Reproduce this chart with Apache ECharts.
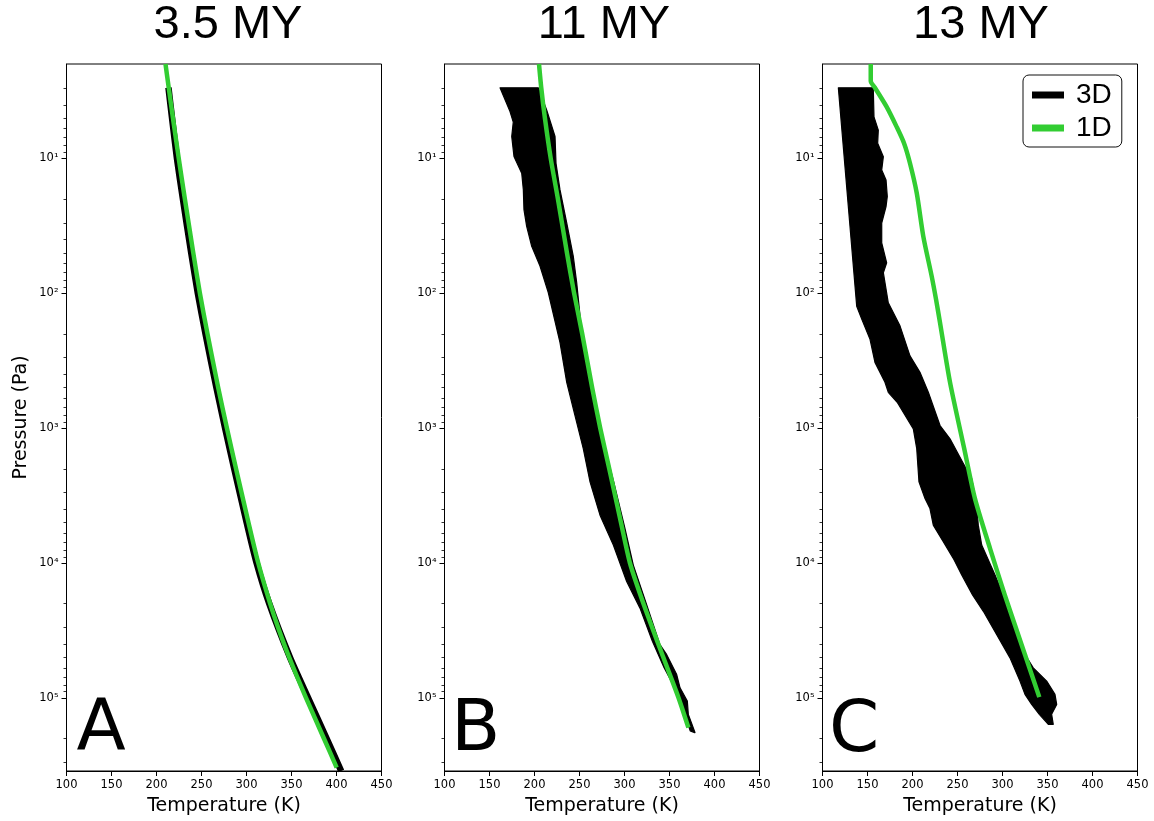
<!DOCTYPE html>
<html>
<head>
<meta charset="utf-8">
<script src="https://cdn.jsdelivr.net/npm/echarts@6/dist/echarts.min.js"></script>
<style>
html,body{margin:0;padding:0;background:#fff;}
#chart{width:1154px;height:821px;}
</style>
</head>
<body>
<div id="chart"></div>
<script>
// ---------- labels ----------
const panelTitles = ['3.5 MY', '11 MY', '13 MY'];
const panelLetters = ['A', 'B', 'C'];
const xAxisTitle = 'Temperature (K)';
const yAxisTitle = 'Pressure (Pa)';
const legendNames = ['3D', '1D'];
const xMin = 100, xMax = 450, xStep = 50;
const yMin = 2, yMax = 350000;
const yTickValues = [10, 100, 1000, 10000, 100000];
const yTickLabels = ['10¹', '10²', '10³', '10⁴', '10⁵'];
const yMinorTickValues = [3, 4, 5, 6, 7, 8, 9,
  20, 30, 40, 50, 60, 70, 80, 90,
  200, 300, 400, 500, 600, 700, 800, 900,
  2000, 3000, 4000, 5000, 6000, 7000, 8000, 9000,
  20000, 30000, 40000, 50000, 60000, 70000, 80000, 90000,
  200000, 300000];

// ---------- Panel A (3.5 MY) ----------
const a1dPressure = [2, 3, 5, 10, 20, 50, 100, 200, 500, 1000, 2000, 5000, 10000, 20000, 30000, 50000, 100000, 200000, 330000];
const a1dTemperature = [210, 213.6, 218.2, 224.7, 231.5, 240.8, 248.2, 256.6, 268.5, 278.2, 288.3, 302.1, 313, 326.2, 335, 347.3, 366, 385.9, 400.2];
// 3D envelope in panel A is a narrow trace: its centre line
const a3dPressure = [3, 5, 10, 20, 50, 100, 200, 500, 1000, 2000, 5000, 10000, 20000, 50000, 100000, 200000, 350000];
const a3dTemperature = [213.3, 217.2, 222.7, 229.3, 238.5, 245.9, 254.4, 266.5, 276.2, 286.3, 300.1, 311.2, 325.2, 348.1, 368.3, 388.9, 405.2];

// ---------- Panel B (11 MY) ----------
const b1dPressure = [2, 3, 5, 10, 20, 50, 100, 200, 500, 1000, 2000, 5000, 10000, 20000, 50000, 100000, 167000];
const b1dTemperature = [205, 207.5, 211.5, 218, 226, 236, 244, 253, 264, 273, 283, 296, 306, 321, 343, 360, 371];
const b3dLeftPressure = [3, 4.5, 5.4, 6.9, 9.7, 12.9, 17.1, 24.1, 32, 45, 63, 99, 232, 459, 809, 1426, 2512, 4434, 7390, 13770, 21700, 38200, 60100, 75400, 105900, 133000, 176400, 181600];
const b3dLeftTemperature = [161.7, 172.8, 176.4, 174.7, 177.2, 185.8, 187.6, 188.3, 191.3, 196.9, 206.1, 215.3, 228.3, 235.8, 245, 254.2, 261.7, 272.8, 287.6, 302.4, 317.2, 331, 344, 352, 361, 367, 373, 378];
const b3dRightPressure = [3, 4.4, 6.9, 10.9, 17.1, 30.2, 53.3, 83.8, 148, 232, 459, 1016, 2512, 5560, 10400, 20500, 40500, 48000, 67400, 84500, 105900, 133000, 181600];
const b3dRightTemperature = [204.2, 213.6, 222.8, 223.9, 228.3, 235.8, 243.1, 246.9, 250.6, 253.6, 261.7, 272.8, 288, 300.5, 309.8, 324.7, 339.4, 346.9, 358, 361.7, 369.8, 370.9, 378.3];

// ---------- Panel C (13 MY) ----------
const c1dPressure = [2, 2.67, 3.0, 4.16, 5.85, 7.74, 10.9, 18.1, 37.9, 74.9, 111, 166, 459, 1426, 3340, 7810, 17300, 48000, 99100];
const c1dTemperature = [153.6, 153.6, 158.3, 171.3, 182.4, 190.6, 197.2, 204.7, 212, 221.3, 226.1, 230.6, 241.7, 257.5, 269.4, 286.1, 302.5, 325, 340.9];
const c3dLeftPressure = [3.0, 125, 156, 220, 327, 459, 544, 645, 1016, 1426, 2512, 3340, 3960, 5260, 6970, 9270, 12300, 17300, 22900, 34100, 50700, 75400, 94600, 112200, 133000, 157700];
const c3dLeftTemperature = [117.6, 138, 143.6, 152.8, 158.3, 169.4, 173.1, 183, 200.9, 204.7, 207.2, 213.9, 219.4, 223.1, 234.2, 245.3, 254.7, 266.7, 278.7, 293.6, 308.3, 319.4, 325, 332.4, 340.9, 350.9];
const c3dRightPressure = [3.0, 4.93, 6.18, 7.74, 9.73, 12.2, 14.5, 19.2, 22.8, 30.2, 42.5, 59.6, 70.6, 118, 175, 292, 387, 544, 960, 1204, 1790, 2380, 3740, 5260, 7390, 12300, 17300, 24300, 48000, 60100, 75400, 94600, 112200, 133000, 157700];
const c3dRightTemperature = [156.4, 157.2, 162, 161.3, 167.6, 165.8, 170.6, 172, 170.6, 165.8, 165.8, 171.3, 167.6, 173.1, 186.1, 197.2, 208.3, 217.6, 230.6, 241.7, 255.6, 265.8, 271.3, 273.1, 276.9, 291.7, 300.9, 308.3, 325, 334.2, 349.1, 358.3, 360.2, 354.6, 356.4];

// ---------- build ----------
const panels = [
  {p1: a1dPressure, t1: a1dTemperature, tp: a3dPressure, tt: a3dTemperature},
  {p1: b1dPressure, t1: b1dTemperature, lp: b3dLeftPressure, lt: b3dLeftTemperature, rp: b3dRightPressure, rt: b3dRightTemperature},
  {p1: c1dPressure, t1: c1dTemperature, lp: c3dLeftPressure, lt: c3dLeftTemperature, rp: c3dRightPressure, rt: c3dRightTemperature}
];

const GREEN = '#32cd32';
const FONT = '"DejaVu Sans"';
const gridLefts = [66.5, 444.5, 822.5];
const titleCenters = [228, 604, 981];
const letterX = [76.5, 451, 829];
const letterY = [730, 731.5, 732];

const grids = [], xAxes = [], yAxes = [], series = [], graphics = [];

panels.forEach(function (pn, i) {
  grids.push({left: gridLefts[i], top: 64, width: 315, height: 710, show: true,
    borderColor: '#000', borderWidth: 1, backgroundColor: 'transparent'});
  xAxes.push({
    type: 'value', gridIndex: i, min: xMin, max: xMax, interval: xStep,
    name: xAxisTitle, nameLocation: 'middle', nameGap: 26,
    nameTextStyle: {fontFamily: FONT, fontSize: 19, color: '#000'},
    axisLine: {show: true, onZero: false, lineStyle: {color: '#000', width: 1}},
    axisTick: {show: true, length: 5, lineStyle: {color: '#000', width: 1}},
    axisLabel: {fontFamily: FONT, fontSize: 11.5, color: '#000', margin: 8},
    splitLine: {show: false}
  });
  yAxes.push({
    type: 'log', logBase: 10, gridIndex: i, min: yMin, max: yMax, inverse: true,
    name: i === 0 ? yAxisTitle : '', nameLocation: 'middle', nameRotate: 90, nameGap: 36,
    nameTextStyle: {fontFamily: FONT, fontSize: 19, color: '#000'},
    axisLine: {show: true, onZero: false, lineStyle: {color: '#000', width: 1}},
    axisTick: {show: false}, axisLabel: {show: false},
    splitLine: {show: false}, minorTick: {show: false}, minorSplitLine: {show: false}
  });

  if (pn.tp) {
    // narrow 3D trace (panel A)
    series.push({
      type: 'line', name: legendNames[0], xAxisIndex: i, yAxisIndex: i, z: 2,
      showSymbol: false, symbol: 'none', clip: true, silent: true, smooth: 0.25,
      lineStyle: {color: '#000', width: 6.5, cap: 'butt', join: 'round'},
      itemStyle: {color: '#000'},
      data: pn.tp.map(function (p, k) { return [pn.tt[k], p]; })
    });
  } else {
    // 3D band (filled polygon between envelope edges)
    series.push({
      type: 'custom', name: legendNames[0], xAxisIndex: i, yAxisIndex: i,
      coordinateSystem: 'cartesian2d', clip: true, silent: true, z: 2,
      itemStyle: {color: '#000'},
      data: [[pn.lt[0], pn.lp[0]]],
      renderItem: function (params, api) {
        const pts = [];
        for (let k = 0; k < pn.lp.length; k++) pts.push(api.coord([pn.lt[k], pn.lp[k]]));
        for (let k = pn.rp.length - 1; k >= 0; k--) pts.push(api.coord([pn.rt[k], pn.rp[k]]));
        return {type: 'polygon', shape: {points: pts},
          style: {fill: '#000', stroke: '#000', lineWidth: 1.2, lineJoin: 'round'}};
      }
    });
  }

  // 1D profile
  series.push({
    type: 'line', name: legendNames[1], xAxisIndex: i, yAxisIndex: i, z: 3,
    showSymbol: false, symbol: 'none', clip: true, silent: true,
    smooth: 0.25,
    lineStyle: {color: GREEN, width: 4.5, cap: 'butt', join: 'round'},
    itemStyle: {color: GREEN},
    data: pn.p1.map(function (p, k) { return [pn.t1[k], p]; })
  });

  // major y ticks with labels
  series.push({
    type: 'custom', xAxisIndex: i, yAxisIndex: i, coordinateSystem: 'cartesian2d',
    silent: true, clip: false, z: 5,
    data: yTickValues.map(function (v) { return [xMin, v]; }),
    renderItem: function (params, api) {
      const p = api.coord([xMin, api.value(1)]);
      const x0 = params.coordSys.x;
      const y = Math.round(p[1]) + 0.5;
      return {type: 'group', children: [
        {type: 'line', shape: {x1: x0 - 5, y1: y, x2: x0, y2: y}, style: {stroke: '#000', lineWidth: 1}},
        {type: 'text', x: x0 - 8, y: p[1],
          style: {text: yTickLabels[params.dataIndex], fill: '#000', font: '11.5px ' + FONT,
            align: 'right', verticalAlign: 'middle', textAlign: 'right', textVerticalAlign: 'middle'}}
      ]};
    }
  });
  // minor y ticks
  series.push({
    type: 'custom', xAxisIndex: i, yAxisIndex: i, coordinateSystem: 'cartesian2d',
    silent: true, clip: false, z: 5,
    data: yMinorTickValues.map(function (v) { return [xMin, v]; }),
    renderItem: function (params, api) {
      const p = api.coord([xMin, api.value(1)]);
      const x0 = params.coordSys.x;
      const y = Math.round(p[1]) + 0.5;
      return {type: 'line', shape: {x1: x0 - 3, y1: y, x2: x0, y2: y}, style: {stroke: '#000', lineWidth: 0.8}};
    }
  });

  graphics.push({type: 'text', x: titleCenters[i], y: 25, z: 10,
    style: {text: panelTitles[i], fill: '#000', font: '47px "Liberation Sans"',
      align: 'center', verticalAlign: 'middle', textAlign: 'center', textVerticalAlign: 'middle'}});
  graphics.push({type: 'text', x: letterX[i], y: letterY[i], z: 10,
    style: {text: panelLetters[i], fill: '#000', font: '72px ' + FONT,
      align: 'left', verticalAlign: 'middle', textAlign: 'left', textVerticalAlign: 'middle'}});
});

const chart = echarts.init(document.getElementById('chart'), null, {renderer: 'canvas'});
chart.setOption({
  animation: false,
  backgroundColor: '#fff',
  textStyle: {fontFamily: FONT},
  grid: grids, xAxis: xAxes, yAxis: yAxes, series: series,
  graphic: graphics,
  legend: {
    show: true, orient: 'vertical', left: 1023, top: 75,
    data: [{name: legendNames[0], itemStyle: {color: '#000'}}, {name: legendNames[1], itemStyle: {color: GREEN}}],
    icon: 'rect', itemWidth: 32, itemHeight: 7, itemGap: 5,
    padding: [6, 10, 5, 9], borderColor: '#111', borderWidth: 1, borderRadius: 6,
    backgroundColor: '#fff', selectedMode: false,
    textStyle: {fontFamily: '"Liberation Sans"', fontSize: 28, color: '#000', lineHeight: 28, padding: [0, 0, 0, 7]}
  }
});
</script>
</body>
</html>
